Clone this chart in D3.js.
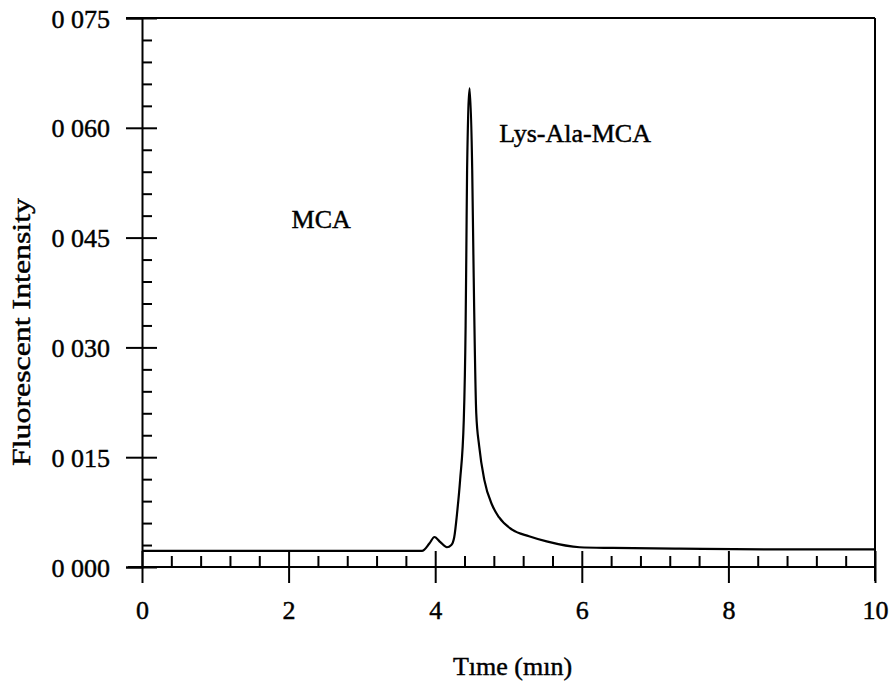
<!DOCTYPE html>
<html>
<head>
<meta charset="utf-8">
<script src="https://cdn.jsdelivr.net/npm/d3@7"></script>
<style>
  body { margin: 0; background: #fff; }
  text { font-family: "Liberation Serif", "Times New Roman", serif; fill: #000; stroke: #000; stroke-width: 0.45px; }
</style>
</head>
<body>
<svg id="chart" width="892" height="686"></svg>
<script>
// chromatogram
var times = [0, 1, 2, 3, 3.6, 3.82, 3.92, 3.99, 4.07, 4.16, 4.22, 4.26, 4.30, 4.34, 4.39,
             4.415, 4.425, 4.435, 4.47, 4.505, 4.52, 4.56, 4.60, 4.67, 4.78, 4.87, 5.05,
             5.28, 5.52, 5.97, 6.42, 7.33, 8.5, 10];
var intensity = [0.0022, 0.0022, 0.0022, 0.0022, 0.0022, 0.0022, 0.0032, 0.0041, 0.0034, 0.0027,
                 0.0030, 0.0041, 0.0075, 0.0119, 0.0201, 0.0330, 0.0433, 0.0542, 0.0654, 0.0542,
                 0.0433, 0.0210, 0.0165, 0.0119, 0.0084, 0.0068, 0.0051, 0.0042, 0.0035, 0.0027,
                 0.0026, 0.0025, 0.0024, 0.0024];

var xTicks = [0, 2, 4, 6, 8, 10];
var xTickLabels = ["0", "2", "4", "6", "8", "10"];
var yTicks = [0, 0.015, 0.030, 0.045, 0.060, 0.075];
var yTickLabels = ["0 000", "0 015", "0 030", "0 045", "0 060", "0 075"];

var peakLabels = ["MCA", "Lys-Ala-MCA"];
var peakLabelT = [2.04, 4.874];
var peakLabelV = [0.0463, 0.0581];

var svg = d3.select("#chart"),
    plotLeft = 142, plotRight = 875, plotTop = 18, plotBottom = 567;

var x = d3.scaleLinear().domain([0, 10]).range([plotLeft, plotRight]),
    y = d3.scaleLinear().domain([0, 0.075]).range([plotBottom, plotTop]);

var xMinor = d3.range(0, 10.001, 0.4).filter(d => Math.abs(d / 2 - Math.round(d / 2)) > 1e-6),
    yMinor = d3.range(0, 0.0751, 0.003).filter(d => Math.abs(d / 0.015 - Math.round(d / 0.015)) > 1e-6);

// frame: top and right edges
svg.append("line")
    .attr("x1", plotLeft - 16).attr("x2", plotRight)
    .attr("y1", plotTop).attr("y2", plotTop)
    .attr("stroke", "#000").attr("stroke-width", 2);
svg.append("line")
    .attr("x1", plotRight).attr("x2", plotRight)
    .attr("y1", plotTop).attr("y2", plotBottom + 14)
    .attr("stroke", "#000").attr("stroke-width", 2);

// y axis
var yAxis = svg.append("g")
    .attr("transform", "translate(" + plotLeft + ",0)")
    .call(d3.axisLeft(y).tickValues(yTicks).tickSize(16).tickPadding(16)
      .tickFormat((d, i) => yTickLabels[i]));
yAxis.selectAll("text").attr("font-size", 26).attr("dy", "0.35em");

svg.append("g")
    .attr("transform", "translate(" + plotLeft + ",0)")
    .call(d3.axisRight(y).tickValues(yTicks).tickSize(15).tickFormat(""))
    .call(g => g.select(".domain").remove());
svg.append("g")
    .attr("transform", "translate(" + plotLeft + ",0)")
    .call(d3.axisRight(y).tickValues(yMinor).tickSize(10).tickFormat(""))
    .call(g => g.select(".domain").remove());

// x axis
var xAxis = svg.append("g")
    .attr("transform", "translate(0," + plotBottom + ")")
    .call(d3.axisBottom(x).tickValues(xTicks).tickSize(16).tickPadding(18)
      .tickFormat((d, i) => xTickLabels[i]));
xAxis.selectAll("text").attr("font-size", 26);
xAxis.select(".domain").attr("d", "M" + (plotLeft - 14) + ",0H" + plotRight);

svg.append("g")
    .attr("transform", "translate(0," + plotBottom + ")")
    .call(d3.axisTop(x).tickValues(xTicks).tickSize(16).tickFormat(""))
    .call(g => g.select(".domain").remove());
svg.append("g")
    .attr("transform", "translate(0," + plotBottom + ")")
    .call(d3.axisTop(x).tickValues(xMinor).tickSize(11).tickFormat(""))
    .call(g => g.select(".domain").remove());

svg.selectAll(".tick line, .domain").attr("stroke", "#000").attr("stroke-width", 2);

// titles
svg.append("text")
    .attr("x", (plotLeft + plotRight) / 2 + 4)
    .attr("y", 675)
    .attr("text-anchor", "middle")
    .attr("font-size", 26)
    .text("Tıme (mın)");

svg.append("text")
    .attr("transform", "translate(30,332) rotate(-90)")
    .attr("text-anchor", "middle")
    .attr("font-size", 26)
    .attr("textLength", 268)
    .attr("lengthAdjust", "spacingAndGlyphs")
    .text("Fluorescent Intensity");

// trace
var line = d3.line()
    .x((d, i) => x(times[i]))
    .y(d => y(d))
    .curve(d3.curveMonotoneX);

svg.append("path")
    .datum(intensity)
    .attr("d", line)
    .attr("fill", "none")
    .attr("stroke", "#000")
    .attr("stroke-width", 2.2)
    .attr("stroke-linejoin", "round");

// peak labels
svg.selectAll(".peak")
    .data(peakLabels)
    .enter()
    .append("text")
    .attr("class", "peak")
    .attr("x", (d, i) => x(peakLabelT[i]))
    .attr("y", (d, i) => y(peakLabelV[i]))
    .attr("font-size", 26)
    .text(d => d);
</script>
</body>
</html>
